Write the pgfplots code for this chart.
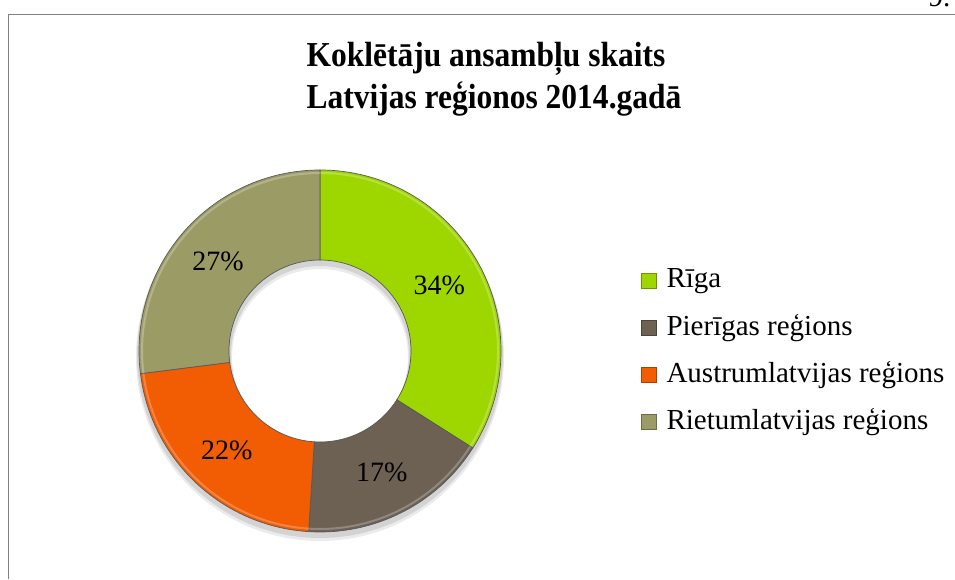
\documentclass[border=0pt]{standalone}
\usepackage{fontspec}
\setmainfont{Liberation Serif}
\newfontfamily\titlefont[FakeStretch=0.9]{Liberation Serif}
\usepackage{pgfplots}
\usepackage{pgfplotstable}
\pgfplotsset{compat=1.18}
\definecolor{cA}{RGB}{158,214,0}
\definecolor{cB}{RGB}{108,97,83}
\definecolor{cC}{RGB}{242,92,2}
\definecolor{cD}{RGB}{155,155,102}
\definecolor{frame}{RGB}{128,128,128}
\pgfplotstableread[col sep=comma]{
name,value,col
Rīga,34,cA
Pierīgas reģions,17,cB
Austrumlatvijas reģions,22,cC
Rietumlatvijas reģions,27,cD
}\donut
\tikzset{
  legfont/.style={font=\fontsize{29}{30}\selectfont},
  pctfont/.style={font=\fontsize{28}{30}\selectfont},
}
\begin{document}
\begin{tikzpicture}[x=1pt,y=1pt]
\useasboundingbox (0,0) rectangle (955,579);
\begin{axis}[at={(0,0)},anchor=south west,scale only axis,
  width=955pt,height=579pt,xmin=0,xmax=955,ymin=0,ymax=579,
  hide axis,clip=false]
% frame
\draw[frame,line width=1.5pt] (axis cs:8.5,0) -- (axis cs:8.5,564.5) -- (axis cs:960,564.5);
\node[anchor=base east,legfont] at (axis cs:954,572) {9.};
% title
\node[anchor=base,font=\titlefont\bfseries\fontsize{35}{40}\selectfont] at (axis cs:486,512.5) {Koklētāju ansambļu skaits};
\node[anchor=base,font=\titlefont\bfseries\fontsize{35}{40}\selectfont] at (axis cs:494,470) {Latvijas reģionos 2014.gadā};
% shadow
\fill[black,opacity=0.10,even odd rule] (axis cs:320,224) circle[radius=183pt] (axis cs:320,224) circle[radius=89pt];
\fill[black,opacity=0.08,even odd rule] (axis cs:320,222) circle[radius=184pt] (axis cs:320,222) circle[radius=88pt];
\pgfplotstablegetrowsof{\donut}
\pgfmathtruncatemacro\N{\pgfplotsretval-1}
\gdef\cum{0}
\pgfplotsforeachungrouped \i in {0,...,\N}{%
  \pgfplotstablegetelem{\i}{value}\of\donut \let\v\pgfplotsretval
  \pgfplotstablegetelem{\i}{col}\of\donut \let\c\pgfplotsretval
  \pgfplotstablegetelem{\i}{name}\of\donut \let\nm\pgfplotsretval
  \pgfmathsetmacro\a{90-3.6*\cum}
  \pgfmathsetmacro\b{90-3.6*(\cum+\v)}
  \pgfmathsetmacro\m{(\a+\b)/2}
  \pgfmathsetmacro\lx{320+136*cos(\m)}
  \pgfmathsetmacro\ly{228+136*sin(\m)}
  \pgfmathsetmacro\cum{\cum+\v}
  \xdef\cum{\cum}
  \pgfmathsetmacro\my{291-47*\i}
  \pgfmathsetmacro\mt{306-47*\i}
  \edef\temp{%
    \noexpand\fill[\c,draw=black!65,line width=0.7pt] (axis cs:320,228) ++(\a:181pt)
      arc[start angle=\a,end angle=\b,radius=181pt] -- ++(\b:-90pt)
      arc[start angle=\b,end angle=\a,radius=91pt] -- cycle;
    \noexpand\draw[white,opacity=0.25,line width=2pt] (axis cs:320,228) ++(\a:178pt)
      arc[start angle=\a,end angle=\b,radius=178pt];
    \noexpand\node[pctfont] at (axis cs:\lx,\ly) {\v\noexpand\%};
    \noexpand\fill[\c,draw=\c!70!black,line width=0.5pt] (axis cs:641,\my) rectangle (axis cs:656,\mt);
    \noexpand\node[anchor=base west,legfont] at (axis cs:663,\my) {\nm};
  }\temp
}
\end{axis}
\end{tikzpicture}
\end{document}
